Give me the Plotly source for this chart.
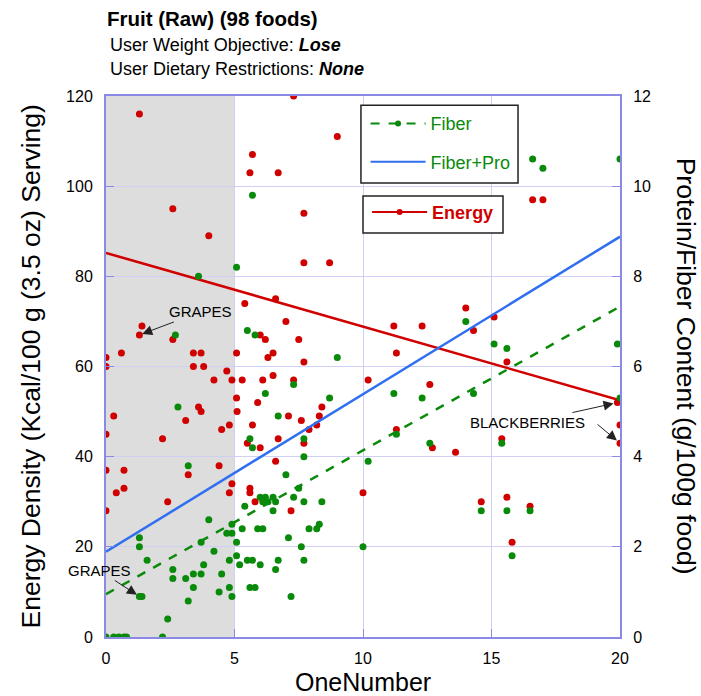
import plotly.graph_objects as go

# ---------------- data ----------------
energy_x = [1.3, 2.6, 4.0, 1.4, 1.3, 2.6, 0.6, 0.0, 0.0, 3.4, 3.7, 5.08, 3.4, 3.8, 4.7, 4.2, 4.9,
            5.08, 3.6, 3.7, 5.1, 0.3, 3.1, 4.8, 4.5, 0.0, 2.2, 4.4, 0.0, 0.7, 3.2, 0.4, 0.7, 0.0,
            2.4, 4.8, 4.9, 7.3, 9.0, 5.7, 5.6, 6.7, 7.7, 7.7, 8.7, 5.4, 6.6, 7.0, 6.0, 6.2, 7.5,
            6.5, 6.3, 7.7, 5.3, 6.1, 6.5, 7.3, 10.2, 5.9, 8.4, 7.1, 7.6, 8.3, 5.7, 8.2, 7.9, 6.7,
            5.5, 7.7, 6.0, 6.6, 5.6, 5.6, 5.8, 7.2, 10.0, 14.0, 11.2, 12.3, 15.1, 14.3, 11.3,
            12.6, 11.3, 12.7, 13.6, 16.6, 17.0, 15.6, 19.9, 20.0, 20.0, 15.4, 14.6, 15.6, 16.5, 15.8]
energy_vals = [116, 95, 89, 69, 67, 66, 63, 62, 60, 63, 63, 63, 60, 60, 59, 57, 57,
               53, 51, 50, 50, 49, 48, 47, 46, 45, 44, 38, 37, 37, 36, 32, 33, 28,
               30, 32, 34, 120, 111, 107, 103, 103, 94, 83, 83, 74, 75, 70, 67, 66, 66,
               63, 62, 61, 57, 57, 58, 57, 57, 52, 51, 49, 48, 49, 47, 47, 46, 44,
               43, 43, 42, 39, 33, 32, 30, 28, 32, 73, 69, 69, 71, 68, 63,
               56, 46, 42, 41, 97, 97, 61, 52, 47, 43, 44, 30, 31, 29, 21]

fiber_x = [3.6, 5.08, 2.7, 2.8, 3.2, 4.0, 4.7, 4.9, 1.3, 1.3, 3.7, 5.08, 4.2, 1.6, 4.8, 5.08,
           2.6, 3.8, 2.6, 3.1, 3.4, 3.7, 4.5, 3.4, 4.4, 4.8, 4.9, 1.3, 1.4, 3.2, 2.4, 0.0, 0.3,
           0.5, 0.7, 0.8, 2.2, 5.7, 5.5, 5.8, 9.0, 7.3, 6.2, 8.7, 6.7, 5.6, 7.7, 5.7, 7.7, 7.0,
           10.2, 7.5, 5.4, 6.0, 6.2, 6.5, 6.1, 6.3, 6.6, 7.3, 7.7, 8.4, 6.5, 4.9, 5.3, 5.9, 6.1,
           7.9, 8.2, 8.3, 7.1, 7.6, 10.0, 5.2, 5.5, 5.7, 6.7, 7.7, 6.0, 6.6, 5.6, 5.8, 7.2,
           14.0, 15.1, 11.2, 12.3, 14.3, 11.3, 12.6, 16.6, 17.0, 20.0, 15.6, 19.9, 20.0, 15.4,
           14.6, 15.6, 16.5, 15.8]
fiber_vals = [8.0, 8.2, 6.7, 5.1, 3.8, 2.6, 2.3, 2.3, 2.2, 2.0, 2.1, 2.1, 1.9, 1.7, 1.7, 1.8,
              1.5, 1.6, 1.3, 1.3, 1.4, 1.4, 1.4, 1.1, 1.0, 1.1, 0.9, 0.9, 0.9, 0.8, 0.4, 0.0, 0.0,
              0.0, 0.0, 0.0, 0.0, 9.8, 6.8, 6.7, 6.2, 5.6, 5.4, 5.3, 4.9, 4.4, 4.4, 4.2, 4.0, 3.6,
              3.9, 3.3, 2.9, 3.1, 3.1, 3.1, 3.0, 3.0, 3.0, 3.1, 3.0, 3.0, 2.8, 2.5, 2.4, 2.4, 2.4,
              2.4, 2.4, 2.5, 2.2, 2.0, 2.0, 1.6, 1.7, 1.7, 1.7, 1.7, 1.6, 1.5, 1.1, 1.1, 0.9,
              7.0, 6.5, 5.4, 5.3, 5.4, 4.5, 4.3, 10.6, 10.4, 10.6, 6.4, 6.5, 5.3, 4.3,
              2.8, 2.8, 2.8, 1.8]

trend_x = [0, 20]
energy_trend = [85.2, 52.5]
fiber_trend = [0.95, 7.33]
fiberpro_trend = [1.89, 8.88]

x_ticks = [0, 5, 10, 15, 20]
y_ticks = [0, 20, 40, 60, 80, 100, 120]
y2_ticks = [0, 2, 4, 6, 8, 10, 12]

RED = "#d00000"
GREEN = "#0a8a0a"
BLUE = "#2f6ff0"
AXIS = "#8a8ae6"
GRID = "#d0d0f4"
FONT = "Arial, Liberation Sans, sans-serif"

fig = go.Figure()

# scatter points
fig.add_trace(go.Scatter(x=fiber_x, y=fiber_vals, yaxis="y2", mode="markers",
                         marker=dict(color=GREEN, size=7), showlegend=False, hoverinfo="skip"))
fig.add_trace(go.Scatter(x=energy_x, y=energy_vals, mode="markers",
                         marker=dict(color=RED, size=7), showlegend=False, hoverinfo="skip"))

# trend lines
fig.add_trace(go.Scatter(x=trend_x, y=fiber_trend, yaxis="y2", mode="lines",
                         line=dict(color=GREEN, width=2.5, dash="dash"), showlegend=False))
fig.add_trace(go.Scatter(x=trend_x, y=fiberpro_trend, yaxis="y2", mode="lines",
                         line=dict(color=BLUE, width=2.5), showlegend=False))
fig.add_trace(go.Scatter(x=trend_x, y=energy_trend, mode="lines",
                         line=dict(color=RED, width=2.5), showlegend=False))

# legend entries
fig.add_trace(go.Scatter(x=[None], y=[None], mode="lines+markers", name="Fiber",
                         line=dict(color=GREEN, width=2, dash="dash"),
                         marker=dict(color=GREEN, size=6), legend="legend", legendgroup="a"))
fig.add_trace(go.Scatter(x=[None], y=[None], mode="lines", name="Fiber+Pro",
                         line=dict(color=BLUE, width=2), legend="legend", legendgroup="b"))
fig.add_trace(go.Scatter(x=[None], y=[None], mode="lines+markers", name="<b>Energy</b>",
                         line=dict(color=RED, width=2),
                         marker=dict(color=RED, size=6), legend="legend2"))

shapes = [
    dict(type="rect", xref="x", yref="paper", x0=0, x1=5, y0=0, y1=1,
         fillcolor="#dcdddc", line=dict(width=0), layer="below"),
    dict(type="rect", xref="paper", yref="paper", x0=0.496, x1=0.8016, y0=0.839, y1=0.983,
         fillcolor="white", line=dict(color="#222222", width=1.5), layer="above"),
    dict(type="rect", xref="paper", yref="paper", x0=0.5, x1=0.7724, y0=0.7468, y1=0.815,
         fillcolor="white", line=dict(color="#222222", width=1.5), layer="above"),
]

ARW = dict(showarrow=True, arrowhead=2, arrowsize=2, arrowwidth=1, arrowcolor="#222222")

annotations = [
    dict(text="<b>Fruit (Raw) (98 foods)</b>", xref="paper", yref="paper", x=-0.002, y=1.144,
         xanchor="left", yanchor="middle", showarrow=False, font=dict(size=20.5, color="black", family=FONT)),
    dict(text="User Weight Objective: <b><i>Lose</i></b>", xref="paper", yref="paper", x=0.004, y=1.095,
         xanchor="left", yanchor="middle", showarrow=False, font=dict(size=18, color="black", family=FONT)),
    dict(text="User Dietary Restrictions: <b><i>None</i></b>", xref="paper", yref="paper", x=0.004, y=1.049,
         xanchor="left", yanchor="middle", showarrow=False, font=dict(size=18, color="black", family=FONT)),
    dict(text="Energy Density (Kcal/100 g (3.5 oz) Serving)", xref="paper", yref="paper", x=-0.146, y=0.5,
         xanchor="center", yanchor="middle",
         textangle=-90, showarrow=False, font=dict(size=26.5, color="black", family=FONT)),
    dict(text="Protein/Fiber Content (g/100g food)", xref="paper", yref="paper", x=1.130, y=0.5,
         xanchor="center", yanchor="middle",
         textangle=90, showarrow=False, font=dict(size=26.5, color="black", family=FONT)),
    dict(text="OneNumber", xref="paper", yref="paper", x=0.5, y=-0.083,
         xanchor="center", yanchor="middle",
         showarrow=False, font=dict(size=25, color="black", family=FONT)),
    dict(text="GRAPES", xref="x", yref="y", x=1.3, y=67, ax=61, ay=-23, standoff=3,
         font=dict(size=15, color="black", family=FONT), **ARW),
    dict(text="GRAPES", xref="x", yref="y2", x=1.3, y=0.9, ax=-40, ay=-26, standoff=3,
         font=dict(size=15, color="black", family=FONT), **ARW),
    dict(text="BLACKBERRIES", xref="x", yref="y", x=19.9, y=52, ax=-90, ay=20, standoff=4,
         font=dict(size=15, color="black", family=FONT), **ARW),
    dict(text="", xref="x", yref="y", x=20, y=43, ax=-24, ay=-20, standoff=4, **ARW),
]

fig.update_layout(
    width=701, height=696,
    margin=dict(l=106, r=81, t=96, b=59),
    paper_bgcolor="white", plot_bgcolor="white",
    font=dict(family=FONT, color="black"),
    shapes=shapes, annotations=annotations,
    xaxis=dict(range=[0, 20], tickvals=x_ticks, ticks="inside", ticklen=8, tickcolor=AXIS,
               showline=True, linecolor=AXIS, linewidth=2, mirror=True,
               showgrid=True, gridcolor=GRID, gridwidth=1, zeroline=False,
               tickfont=dict(size=16, color="black"), ticklabelstandoff=6),
    yaxis=dict(range=[0, 120], tickvals=y_ticks, ticks="inside", ticklen=8, tickcolor=AXIS,
               showline=True, linecolor=AXIS, linewidth=2, mirror=True,
               showgrid=True, gridcolor=GRID, gridwidth=1, zeroline=False,
               tickfont=dict(size=16, color="black"), ticklabelstandoff=8),
    yaxis2=dict(range=[0, 12], tickvals=y2_ticks, overlaying="y", side="right", ticks="inside",
                ticklen=8, tickcolor=AXIS, showline=True, linecolor=AXIS, linewidth=2,
                showgrid=False, zeroline=False, tickfont=dict(size=16, color="black"),
                ticklabelstandoff=8),
    legend=dict(x=0.505, y=0.983, xanchor="left", yanchor="top", bgcolor="rgba(0,0,0,0)",
                borderwidth=0, font=dict(size=18, color=GREEN, family=FONT), itemwidth=55,
                tracegroupgap=12, traceorder="grouped"),
    legend2=dict(x=0.508, y=0.819, xanchor="left", yanchor="top", bgcolor="rgba(0,0,0,0)",
                 borderwidth=0, font=dict(size=18, color=RED, family=FONT), itemwidth=55),
)

fig.write_html("out.html")
